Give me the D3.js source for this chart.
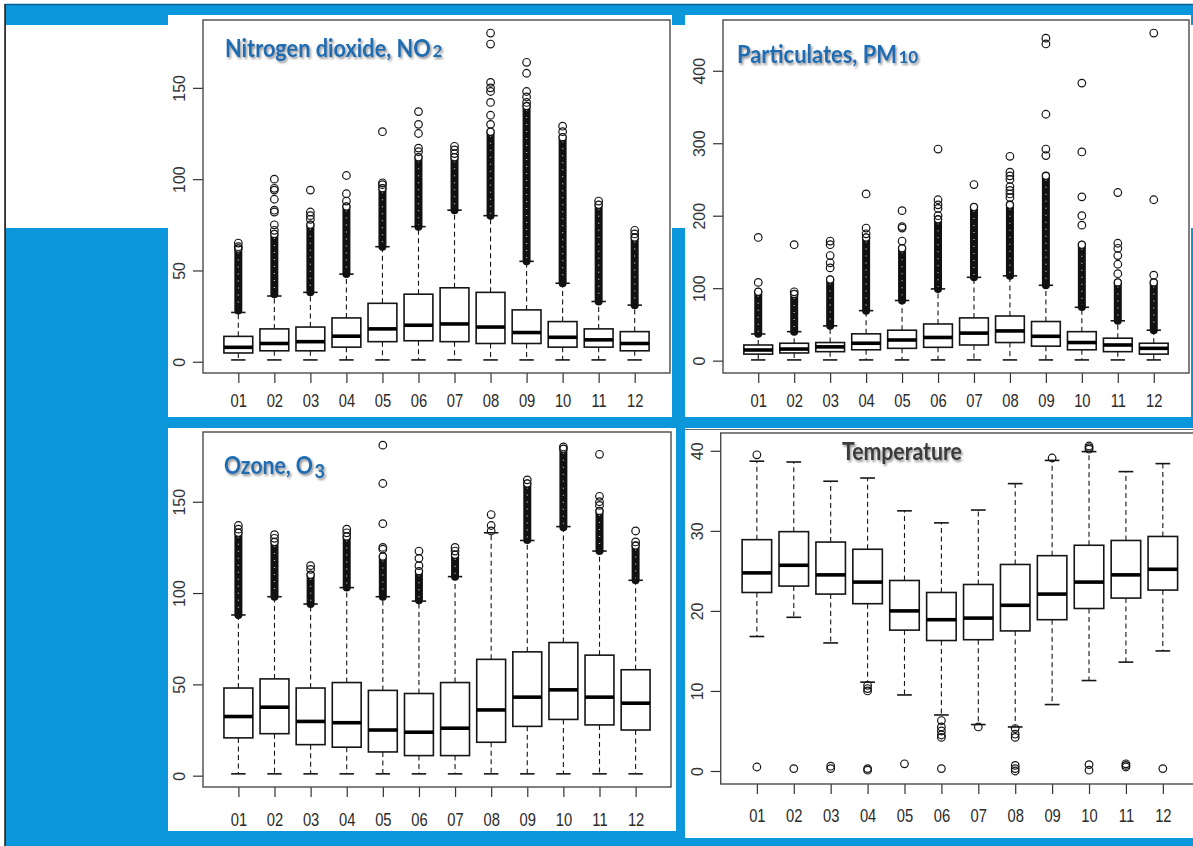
<!DOCTYPE html>
<html>
<head>
<meta charset="utf-8">
<script src="https://cdn.jsdelivr.net/npm/d3@7"></script>
<style>
  html, body { margin: 0; padding: 0; background: #fff; }
  svg { display: block; }
</style>
</head>
<body>
<svg id="chart" width="1193" height="846"></svg>
<script>
// ---------- data: monthly box-plot statistics ----------
const months = ["01", "02", "03", "04", "05", "06", "07", "08", "09", "10", "11", "12"];

// Nitrogen dioxide, NO2
const no2Low    = [1, 1, 1, 1, 1, 1, 1, 1, 1, 1, 1, 1];
const no2Q1     = [4.8, 6, 6, 8, 11, 11.5, 11, 10, 10, 8, 8, 6];
const no2Median = [7.9, 10, 11, 14, 18, 20, 20.7, 19, 16, 13.4, 12, 10];
const no2Q3     = [13.9, 18, 19, 24, 32, 37, 40.5, 38, 28.4, 22, 18, 16.5];
const no2High   = [27, 36, 38, 48, 63, 74, 83, 80, 55, 43, 33, 31];
const no2Dense  = [[28, 62], [37, 70], [38, 75], [48, 85], [63, 95], [74, 112], [83, 112], [80, 126], [55, 140], [43, 123], [33, 86], [31, 68]];
const no2Outliers = [[63, 65], [72, 75, 82, 83, 89, 94, 95, 100], [78, 80, 82, 94], [88, 92, 102], [97, 98, 126],
  [115, 117, 125, 130, 137], [114, 116, 118], [130, 135, 142, 148, 150, 153, 174, 180], [142, 145, 148, 158, 164],
  [126, 129], [88], [70, 72]];

// Particulates, PM10
const pmLow    = [1, 1, 1, 1, 1, 1, 1, 1, 1, 1, 1, 1];
const pmQ1     = [9, 10.6, 12.4, 15, 17, 18.4, 21.6, 25, 20, 15, 12.4, 9];
const pmMedian = [14.7, 16, 19, 24, 28.5, 32, 38, 41, 33.6, 25, 21.6, 17];
const pmQ3     = [21.6, 24, 25, 37, 42, 50.6, 59, 61.6, 54, 40, 31, 24];
const pmHigh   = [36.8, 40, 48, 69, 83, 99, 115, 117, 104, 73.6, 55, 42];
const pmDense  = [[37, 95], [40, 92], [48, 112], [69, 170], [83, 155], [99, 195], [115, 212], [117, 215], [104, 255], [74, 160], [55, 108], [42, 108]];
const pmOutliers = [[108, 170], [95, 160], [128, 135, 145, 160, 165], [175, 183, 230], [165, 183, 185, 207],
  [200, 210, 215, 222, 292], [243], [225, 230, 235, 240, 250, 255, 260, 282], [283, 292, 340, 437, 445],
  [187, 200, 226, 288, 383], [120, 133, 145, 155, 162, 232], [118, 222, 452]];

// Ozone, O3
const o3Low    = [1, 1, 1, 1, 1, 1, 1, 1, 1, 1, 1, 1];
const o3Q1     = [20.7, 23, 17, 15.6, 13, 11, 11, 18.3, 27, 30.8, 27.8, 25];
const o3Median = [32.4, 37.5, 29.7, 29, 25, 23.8, 26, 36, 43, 47, 43, 39.7];
const o3Q3     = [48, 53, 48, 51, 46.7, 45, 51, 63.7, 67.8, 72.9, 66, 58];
const o3High   = [88, 98, 94, 103, 98, 95.6, 109, 133, 128.8, 136.4, 123, 107];
const o3Dense  = [[88, 133], [98, 128], [94, 110], [103, 131], [98, 120], [96, 112], [109, 121], null, [129, 160], [136, 179], [123, 145], [107, 126]];
const o3Outliers = [[135, 137], [130, 132], [113, 115], [133, 135], [124, 125, 138, 160, 181], [115, 119, 123],
  [123, 125], [134, 137, 143], [162], [180], [148, 150, 153, 176], [128, 134]];

// Temperature
const tLow    = [16.8, 19.2, 16, 11.1, 9.5, 7.0, 5.8, 5.5, 8.3, 11.3, 13.6, 15.0];
const tQ1     = [22.3, 23.1, 22.1, 20.9, 17.6, 16.3, 16.4, 17.5, 18.9, 20.3, 21.6, 22.6];
const tMedian = [24.75, 25.7, 24.5, 23.6, 20.0, 18.9, 19.1, 20.7, 22.1, 23.6, 24.5, 25.2];
const tQ3     = [28.9, 29.9, 28.6, 27.7, 23.8, 22.3, 23.3, 25.8, 26.9, 28.2, 28.8, 29.3];
const tHigh   = [38.7, 38.6, 36.2, 36.6, 32.5, 31, 32.6, 35.9, 38.8, 39.9, 37.4, 38.4];
const tDense  = [null, null, null, null, null, null, null, null, null, null, null, null];
const tOutliers = [[39.5, 0.5], [0.3], [0.3, 0.6], [10.0, 10.3, 10.7, 0.1, 0.3], [0.9], [6.3, 5.5, 5.0, 4.5, 4.2, 0.3],
  [5.5], [5.3, 4.6, 4.2, 0.7, 0.3, 0.0], [39.1], [40.2, 40.4, 40.6, 0.8, 0.1], [0.5, 0.7, 0.9], [0.3]];

// axis tick values
const no2Ticks = [0, 50, 100, 150];
const pmTicks = [0, 100, 200, 300, 400];
const o3Ticks = [0, 50, 100, 150];
const tTicks = [0, 10, 20, 30, 40];

// ---------- page layout ----------
const svg = d3.select("#chart");
const BLUE = "#0b97da";
const INK = "#151515";

const defs = svg.append("defs");
const shadow = defs.append("filter").attr("id", "titleShadow")
  .attr("x", "-10%").attr("y", "-30%").attr("width", "130%").attr("height", "170%");
shadow.append("feDropShadow").attr("dx", 1.6).attr("dy", 2).attr("stdDeviation", 1.1)
  .attr("flood-color", "#6f6f6f").attr("flood-opacity", 0.75);

// slide background
svg.append("rect").attr("width", 1193).attr("height", 846).attr("fill", "#fff");
svg.append("rect").attr("x", 5).attr("y", 4).attr("width", 1188).attr("height", 842).attr("fill", BLUE);
svg.append("line").attr("x1", 5).attr("x2", 1193).attr("y1", 4.5).attr("y2", 4.5)
  .attr("stroke", "#0d5f95").attr("stroke-width", 1.5);
svg.append("line").attr("x1", 5).attr("x2", 5).attr("y1", 4).attr("y2", 846)
  .attr("stroke", "#1a1a1a").attr("stroke-width", 1.5);
svg.append("rect").attr("x", 6).attr("y", 25).attr("width", 1187).attr("height", 203).attr("fill", "#fff");

const panels = [
  { card: [168, 15, 672, 417], frame: [203, 20, 670, 373], pad: 11,
    low: no2Low, q1: no2Q1, med: no2Median, q3: no2Q3, high: no2High, dense: no2Dense, out: no2Outliers, ticks: no2Ticks,
    title: { main: "Nitrogen dioxide, NO", sub: "2", subSize: 17, subDy: 0, x: 225, y: 57, len: 206, color: "#1d6db3" } },
  { card: [685, 15, 1191, 417], frame: [723, 20, 1189, 373], pad: 11,
    low: pmLow, q1: pmQ1, med: pmMedian, q3: pmQ3, high: pmHigh, dense: pmDense, out: pmOutliers, ticks: pmTicks,
    title: { main: "Particulates, PM", sub: "10", subSize: 17, subDy: 0, x: 737, y: 63, len: 160, color: "#1d6db3" } },
  { card: [168, 428, 676, 831], frame: [203, 432, 671, 787], pad: 16,
    low: o3Low, q1: o3Q1, med: o3Median, q3: o3Q3, high: o3High, dense: o3Dense, out: o3Outliers, ticks: o3Ticks,
    title: { main: "Ozone, O", sub: "3", subSize: 18, subDy: 4, x: 224, y: 474, len: 89, color: "#1d6db3" } },
  { card: [685, 428, 1193, 838], frame: [720.7, 433, 1199, 784], pad: 15,
    low: tLow, q1: tQ1, med: tMedian, q3: tQ3, high: tHigh, dense: tDense, out: tOutliers, ticks: tTicks,
    title: { main: "Temperature", sub: null, x: 842, y: 460, len: 120, color: "#3a3a3a" } }
];

panels.forEach((p, k) => {
  const [cx0, cy0, cx1, cy1] = p.card;
  svg.append("rect").attr("x", cx0).attr("y", cy0).attr("width", cx1 - cx0).attr("height", cy1 - cy0).attr("fill", "#fff");
  if (k === 3) {
    svg.append("line").attr("x1", cx0).attr("x2", cx1).attr("y1", cy0 + 1.5).attr("y2", cy0 + 1.5)
      .attr("stroke", "#5d6a74").attr("stroke-width", 1);
  }
  drawPanel(p, k);
});

function drawPanel(p, k) {
  const [fx0, fy0, fx1, fy1] = p.frame;
  const clipId = "clip" + k;
  defs.append("clipPath").attr("id", clipId).append("rect")
    .attr("x", p.card[0]).attr("y", p.card[1]).attr("width", p.card[2] - p.card[0]).attr("height", p.card[3] - p.card[1]);
  const g = svg.append("g").attr("clip-path", `url(#${clipId})`);

  // value extent, padded by 4% each side
  const all = [].concat(p.low, p.high, p.out.flat(), p.dense.filter(d => d).flat());
  const [lo, hi] = d3.extent(all);
  const padY = (hi - lo) * 0.04;
  const y = d3.scaleLinear().domain([lo - padY, hi + padY]).range([fy1, fy0]);
  const x = d3.scaleLinear().domain([0.02, 12.98]).range([fx0, fx1]);
  const step = x(2) - x(1);
  const hw = step * 0.4;

  // axes
  const yAxis = g.append("g").attr("transform", `translate(${fx0},0)`)
    .call(d3.axisLeft(y).tickValues(p.ticks).tickSize(10).tickFormat(d3.format("d")));
  yAxis.select(".domain").remove();
  yAxis.selectAll("line").attr("stroke", "#333").attr("stroke-width", 1.2);
  yAxis.selectAll("text")
    .attr("transform", "rotate(-90)").attr("x", 0).attr("y", -18).attr("dy", 0)
    .attr("text-anchor", "middle")
    .attr("font-family", "'Liberation Sans', Arial, sans-serif").attr("font-size", 16).attr("fill", "#333");

  const xAxis = g.append("g").attr("transform", `translate(0,${fy1})`)
    .call(d3.axisBottom(x).tickValues(d3.range(1, 13)).tickSize(10).tickPadding(p.pad).tickFormat(i => months[i - 1]));
  xAxis.select(".domain").remove();
  xAxis.selectAll("line").attr("stroke", "#333").attr("stroke-width", 1.2);
  xAxis.selectAll("text")
    .attr("transform", "scale(0.82,1)")
    .attr("font-family", "'Liberation Sans', Arial, sans-serif").attr("font-size", 18).attr("fill", "#2a2a2a");

  // plot frame
  g.append("rect").attr("x", fx0).attr("y", fy0).attr("width", fx1 - fx0).attr("height", fy1 - fy0)
    .attr("fill", "none").attr("stroke", "#4a4a4a").attr("stroke-width", 1.4);

  // boxes
  const boxes = g.append("g");
  months.forEach((m, i) => {
    const cx = x(i + 1);
    const b = boxes.append("g");
    // whiskers
    [[p.q3[i], p.high[i]], [p.q1[i], p.low[i]]].forEach(([a, c]) => {
      b.append("line").attr("x1", cx).attr("x2", cx).attr("y1", y(a)).attr("y2", y(c))
        .attr("stroke", INK).attr("stroke-width", 1.1).attr("stroke-dasharray", "5,3.5");
      b.append("line").attr("x1", cx - hw / 2).attr("x2", cx + hw / 2).attr("y1", y(c)).attr("y2", y(c))
        .attr("stroke", INK).attr("stroke-width", 1.6);
    });
    // box + median
    b.append("rect").attr("x", cx - hw).attr("y", y(p.q3[i])).attr("width", hw * 2)
      .attr("height", y(p.q1[i]) - y(p.q3[i]))
      .attr("fill", "#fff").attr("stroke", INK).attr("stroke-width", 1.6);
    b.append("line").attr("x1", cx - hw).attr("x2", cx + hw).attr("y1", y(p.med[i])).attr("y2", y(p.med[i]))
      .attr("stroke", "#000").attr("stroke-width", 3.6);

    // dense run of outliers
    const d = p.dense[i];
    if (d) {
      b.append("rect").attr("x", cx - 4).attr("width", 8)
        .attr("y", y(d[1]) - 4).attr("height", y(d[0]) - y(d[1]) + 8).attr("rx", 4)
        .attr("fill", "#111");
      b.append("line").attr("x1", cx).attr("x2", cx).attr("y1", y(d[1]) + 4).attr("y2", y(d[0]) - 2)
        .attr("stroke", "#fff").attr("stroke-width", 1.3).attr("stroke-dasharray", "1,6").attr("opacity", 0.7);
      b.append("circle").attr("cx", cx).attr("cy", y(d[1])).attr("r", 3.6)
        .attr("fill", "#fff").attr("stroke", INK).attr("stroke-width", 1.3);
    }
    // individual outliers
    b.selectAll("circle.o").data(p.out[i]).enter().append("circle").attr("class", "o")
      .attr("cx", cx).attr("cy", v => y(v)).attr("r", 3.8)
      .attr("fill", "none").attr("stroke", INK).attr("stroke-width", 1.2);
  });

  // panel title: main words squeezed horizontally to their width, then the small figures
  const t = p.title;
  const font = "Lato, 'Open Sans', sans-serif";
  const main = svg.append("text").attr("x", 0).attr("y", 0)
    .attr("font-family", font).attr("font-weight", 700).attr("font-size", 24)
    .attr("fill", t.color).attr("filter", "url(#titleShadow)")
    .text(t.main);
  const natural = main.node().getComputedTextLength();
  main.attr("transform", `translate(${t.x},${t.y}) scale(${t.len / natural},1)`);
  if (t.sub) {
    svg.append("text").attr("x", t.x + t.len + 1.5).attr("y", t.y + t.subDy)
      .attr("font-family", font).attr("font-weight", 700).attr("font-size", t.subSize)
      .attr("fill", t.color).attr("filter", "url(#titleShadow)")
      .text(t.sub);
  }
}
</script>
</body>
</html>
